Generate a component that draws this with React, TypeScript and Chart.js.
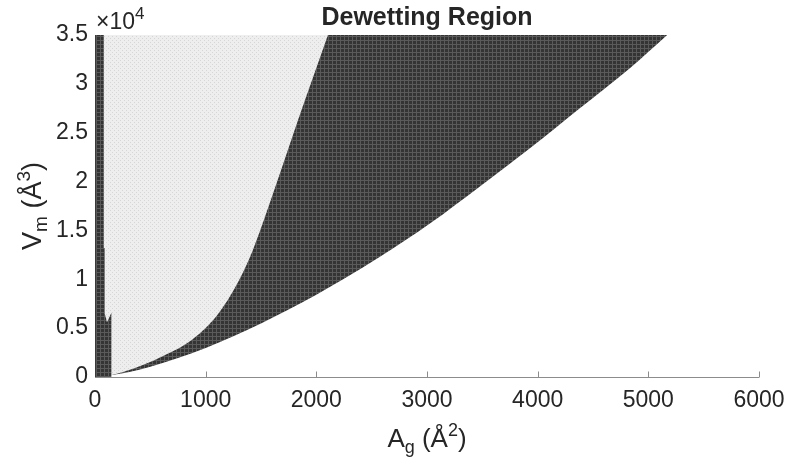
import React, { useEffect, useRef } from "react";
import { Chart, registerables } from "chart.js";

Chart.register(...registerables);

// ---- data (A_g in Å^2, V_m in Å^3) ----
const xTickValues = [0, 1000, 2000, 3000, 4000, 5000, 6000];
const yTickValues = [0, 5000, 10000, 15000, 20000, 25000, 30000, 35000];

// dark strip near A = 0
const stripA = [0, 79, 79, 88, 88, 108, 150, 150];
const stripV = [35000, 35000, 13200, 13200, 6500, 5600, 6600, 0];

// upper boundary of the dark crescent (light region above it)
const upperA = [0, 150, 343, 587, 885, 1102, 1292, 1427, 1626, 1834, 2105];
const upperV = [0, 200, 850, 2000, 3900, 6300, 9700, 13000, 19330, 26280, 35000];

// lower boundary of the dark crescent
const lowerA = [150, 300, 500, 750, 1000, 1250, 1500, 1750, 2000, 2250, 2575, 3026, 3478, 3930, 4381, 4833, 5170];
const lowerV = [200, 490, 1050, 1940, 2980, 4160, 5470, 6900, 8430, 10050, 12300, 15700, 19500, 23400, 27500, 31600, 35000];

const titleText = "Dewetting Region";

const FONT = '"Liberation Sans", Arial, Helvetica, sans-serif';
const TEXT = "#262626";

const toPts = (xs: number[], ys: number[]) => xs.map((x, i) => ({ x, y: ys[i] }));

function makePattern(base: string, line: string, dot: boolean): CanvasPattern | string {
  const t = document.createElement("canvas");
  t.width = 4;
  t.height = 4;
  const c = t.getContext("2d");
  if (!c) return base;
  c.fillStyle = base;
  c.fillRect(0, 0, 4, 4);
  c.fillStyle = line;
  if (dot) {
    c.fillRect(0, 0, 1, 1);
    c.fillRect(2, 2, 1, 1);
  } else {
    c.fillRect(0, 0, 4, 1);
    c.fillRect(0, 0, 1, 4);
  }
  const p = c.createPattern(t, "repeat");
  return p || base;
}

type Part = { t: string; size: number; dy?: number; bold?: boolean };

function drawParts(ctx: CanvasRenderingContext2D, parts: Part[], x: number, y: number, align: "center" | "left") {
  let total = 0;
  const widths = parts.map((p) => {
    ctx.font = `${p.bold ? "bold " : ""}${p.size}px ${FONT}`;
    const w = ctx.measureText(p.t).width;
    total += w;
    return w;
  });
  let cx = align === "center" ? x - total / 2 : x;
  ctx.textAlign = "left";
  ctx.textBaseline = "alphabetic";
  parts.forEach((p, i) => {
    ctx.font = `${p.bold ? "bold " : ""}${p.size}px ${FONT}`;
    ctx.fillText(p.t, cx, y + (p.dy || 0));
    cx += widths[i];
  });
}

const decor = {
  id: "decor",
  afterDraw(chart: any) {
    const { ctx, chartArea, scales } = chart;
    const xs = scales.x;
    const ys = scales.y;
    ctx.save();
    // x axis line + inward ticks
    const yb = Math.round(ys.getPixelForValue(0)) + 0.5;
    ctx.strokeStyle = "#8c8c8c";
    ctx.lineWidth = 1;
    ctx.beginPath();
    ctx.moveTo(chartArea.left, yb);
    ctx.lineTo(chartArea.right, yb);
    xTickValues.forEach((v) => {
      const px = Math.round(xs.getPixelForValue(v)) + 0.5;
      ctx.moveTo(px, yb);
      ctx.lineTo(px, yb - 6);
    });
    ctx.stroke();
    // y axis line
    const xl = Math.round(xs.getPixelForValue(0)) + 0.5;
    ctx.strokeStyle = "#3a3a3a";
    ctx.beginPath();
    ctx.moveTo(xl, chartArea.top);
    ctx.lineTo(xl, chartArea.bottom);
    ctx.stroke();

    ctx.fillStyle = TEXT;
    const cxMid = (chartArea.left + chartArea.right) / 2;
    const cyMid = (chartArea.top + chartArea.bottom) / 2;
    // title
    drawParts(ctx, [{ t: titleText, size: 25, bold: true }], cxMid, 25, "center");
    // exponent marker
    drawParts(ctx, [{ t: "\u00d710", size: 23 }, { t: "4", size: 17, dy: -10 }], chartArea.left + 1, 29, "left");
    // x label
    drawParts(
      ctx,
      [
        { t: "A", size: 26 },
        { t: "g", size: 18, dy: 6 },
        { t: " (\u00c5", size: 26 },
        { t: "2", size: 18, dy: -11 },
        { t: ")", size: 26 },
      ],
      cxMid,
      447,
      "center"
    );
    // y label
    ctx.translate(41, cyMid);
    ctx.rotate(-Math.PI / 2);
    drawParts(
      ctx,
      [
        { t: "V", size: 27 },
        { t: "m", size: 19, dy: 6 },
        { t: " (\u00c5", size: 27 },
        { t: "3", size: 19, dy: -11 },
        { t: ")", size: 27 },
      ],
      0,
      0,
      "center"
    );
    ctx.restore();
  },
};

export default function App() {
  const ref = useRef<HTMLCanvasElement | null>(null);
  useEffect(() => {
    document.body.style.margin = "0";
    const canvas = ref.current;
    if (!canvas) return;
    const dark = makePattern("#343434", "#5a5a5a", false);
    const light = makePattern("#eeeeee", "#d6d6d6", true);
    const chart = new Chart(canvas, {
      type: "line",
      data: {
        datasets: [
          {
            label: "strip",
            data: toPts(stripA, stripV),
            fill: "origin",
            backgroundColor: dark,
            borderWidth: 0,
            pointRadius: 0,
            tension: 0,
            order: 1,
          },
          {
            label: "light",
            data: toPts(upperA, upperV),
            fill: "end",
            backgroundColor: light,
            borderWidth: 0,
            pointRadius: 0,
            cubicInterpolationMode: "monotone",
            order: 2,
          },
          {
            label: "dark",
            data: toPts(lowerA, lowerV),
            fill: "end",
            backgroundColor: dark,
            borderWidth: 0,
            pointRadius: 0,
            cubicInterpolationMode: "monotone",
            order: 3,
          },
        ],
      },
      options: {
        animation: false,
        responsive: false,
        devicePixelRatio: 1,
        layout: { padding: { left: 0, top: 35, right: 29, bottom: 0 } },
        plugins: { legend: { display: false }, tooltip: { enabled: false }, title: { display: false } },
        scales: {
          x: {
            type: "linear",
            min: 0,
            max: 6000,
            afterBuildTicks: (s: any) => {
              s.ticks = xTickValues.map((v) => ({ value: v }));
            },
            afterFit: (s: any) => {
              s.height = 92;
              s.paddingLeft = 0;
              s.paddingRight = 0;
            },
            grid: { display: false, drawTicks: false, tickLength: 0 },
            border: { display: false },
            ticks: {
              color: TEXT,
              font: { family: FONT, size: 23 },
              padding: 10,
              maxRotation: 0,
              autoSkip: false,
              callback: (v: any) => String(v),
            },
          },
          y: {
            type: "linear",
            min: 0,
            max: 35000,
            afterBuildTicks: (s: any) => {
              s.ticks = yTickValues.map((v) => ({ value: v }));
            },
            afterFit: (s: any) => {
              s.width = 95;
              s.paddingTop = 0;
              s.paddingBottom = 0;
            },
            grid: { display: false, drawTicks: false, tickLength: 0 },
            border: { display: false },
            ticks: {
              color: TEXT,
              font: { family: FONT, size: 23 },
              padding: 7,
              autoSkip: false,
              callback: (v: any) => String(Number(v) / 10000),
            },
          },
        },
      },
      plugins: [decor],
    } as any);
    return () => chart.destroy();
  }, []);
  return <canvas ref={ref} width={788} height={469} style={{ display: "block" }} />;
}
